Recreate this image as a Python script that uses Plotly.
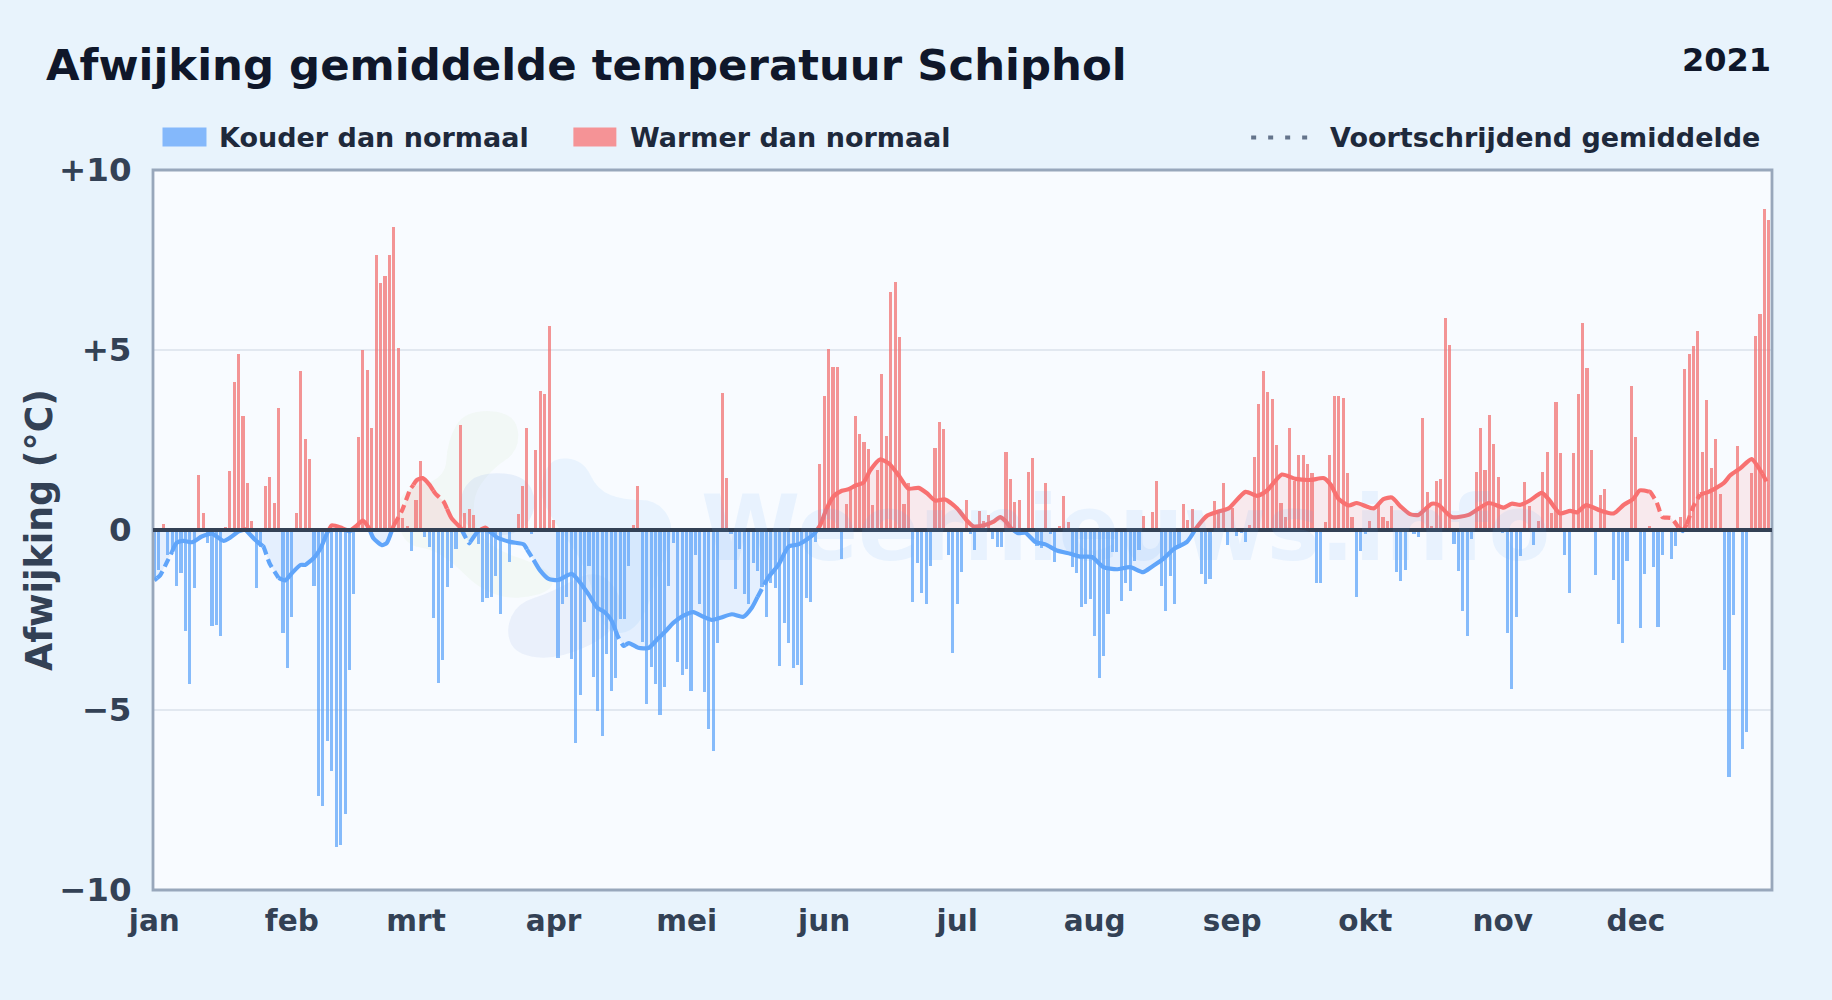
import numpy as np
import plotly.graph_objects as go

# ---------- data ----------
daily_anomaly = [
    -1.4,-1.1,0.17,-0.7,-0.6,-1.56,-1.2,-2.8,-4.28,-1.6,
    1.52,0.46,-0.36,-2.67,-2.65,-2.94,0.09,1.63,4.12,4.9,
    3.18,1.3,0.25,-1.6,-0.46,1.22,1.46,0.75,3.4,-2.85,
    -3.84,-2.41,0.46,4.41,2.54,1.97,-1.56,-7.4,-7.66,-5.87,
    -6.69,-8.8,-8.75,-7.9,-3.88,-1.79,2.58,5.0,4.44,2.82,
    7.64,6.85,7.06,7.64,8.41,5.05,0.32,0.1,-0.57,0.82,
    1.92,-0.2,-0.46,-2.45,-4.24,-3.62,-1.59,-1.06,-0.53,2.93,
    0.46,0.58,0.41,-0.4,-2.0,-1.88,-1.85,-1.28,-2.32,0,
    -0.89,0,0.44,1.23,2.82,-0.1,2.21,3.87,3.77,5.67,
    0.28,-3.55,-2.05,-1.85,-3.58,-5.93,-4.57,-2.56,-1.0,-4.08,
    -5.03,-5.71,-3.44,-4.48,-4.1,-2.48,-2.48,-1.0,0.13,1.22,
    -3.11,-4.83,-3.8,-4.28,-5.15,-4.37,-1.55,-0.37,-3.67,-4.04,
    -3.87,-4.48,-0.7,-2.05,-4.5,-5.52,-6.13,-3.14,3.8,1.44,
    -0.1,-1.63,-0.53,-1.79,-2.05,-0.93,-1.13,-1.59,-2.41,-1.46,
    -1.62,-3.77,-2.58,-3.14,-3.84,-3.75,-4.3,-1.89,-1.99,-0.33,
    1.84,3.71,5.03,4.53,4.53,-0.8,0.73,1.13,3.18,2.68,
    2.45,2.25,0.7,1.66,4.34,2.61,6.62,6.89,5.36,0.73,
    1.3,-1.99,-0.93,-1.76,-2.05,-0.99,2.29,3.0,2.81,-0.69,
    -3.42,-2.05,-1.17,0.82,-0.1,-0.56,0.53,0.26,0.42,-0.26,
    -0.48,-0.48,2.16,1.43,0.78,0.82,0,1.62,1.99,-0.44,
    -0.49,1.3,-0.1,-0.89,0.1,0.94,0.22,-1.03,-1.19,-2.15,
    -2.05,-1.92,-2.94,-4.11,-3.51,-2.33,-0.6,-0.62,-1.97,-1.46,
    -1.7,-0.86,-0.56,0.4,0,0.49,1.36,-1.56,-2.25,-1.28,
    -2.05,-0.5,0.72,0.28,0.58,0,-1.23,-1.5,-1.36,0.8,
    0.46,1.3,-0.41,0.6,-0.17,-0.07,-0.34,0.13,2.03,3.51,
    4.42,3.83,3.63,2.37,0.74,0.36,2.82,1.36,2.09,2.09,
    1.83,1.58,-1.47,-1.46,0.21,2.09,3.71,3.73,3.66,1.58,
    0.36,-1.87,-0.57,-0.1,0.26,0,0.72,0.36,0.25,0.66,
    -1.18,-1.42,-1.1,0,-0.12,-0.2,3.1,1.05,0.1,1.36,
    1.43,5.89,5.14,-0.38,-1.13,-2.25,-2.95,-0.26,1.6,2.83,
    1.66,3.2,2.4,1.46,-0.07,-2.85,-4.41,-2.42,-0.73,1.32,
    0.66,-0.41,0.25,1.62,2.16,0.48,3.56,2.13,-0.69,-1.76,
    2.13,3.79,5.75,4.5,2.21,-1.25,0.98,1.15,0,-1.38,
    -2.62,-3.14,-0.86,3.99,2.57,-2.72,-1.23,0.1,-1.03,-2.69,
    -0.7,0,-0.8,-0.44,0.36,4.48,4.9,5.11,5.54,2.16,
    3.62,1.71,2.54,0.99,-3.88,-6.87,-2.36,2.32,-6.07,-5.6,
    1.58,5.39,6.0,8.91,8.6,
]

rolling_days = [
    0,1.3,3,5,6.5,8.5,10.7,13,15.6,17,19,20.5,22.7,24.6,26,28,29.5,31,33,34,36,37.4,39,40,42,44,
    45.7,47,48.4,49.4,51.3,52.4,54,55.8,57.7,59.2,60.5,62,63.3,65.2,67,69,71,73,74.6,77.2,80.2,
    83.3,85,87,88.9,91,94.1,96,97.9,99.8,101.6,103.1,104.6,105.8,107,109.1,111.4,113.3,115.2,117,
    119.3,121.5,123.8,125.7,127.6,130.2,132.8,134.7,136.6,138.4,140.7,143,145.2,147.5,149,150.1,
    151.6,153.1,155,156.5,158,159.9,161.4,163.6,165.6,167.8,170,172.3,174.2,176,178.3,181,183.2,
    184.7,187,189.2,190.7,191.8,193.3,194.8,196.4,198.6,200.9,203.5,206.5,208.7,211.4,214,217,220,
    222.9,224.9,227.6,229.8,232.8,235,237.4,239.6,242.2,246,248.6,250.8,254.2,257.3,260.7,263.7,
    265.2,267,269.3,271.1,274.9,277.1,279,281,283.1,285,288,289.5,292.5,296.3,300.8,304.2,306,308,
    310.1,312.8,314.3,316.9,319.2,320.7,322.8,326,329,331.3,333.4,334.9,337.2,338.7,340,342,343.6,
    344.6,345.5,347,348.5,350.4,353.8,355.3,357.6,360.1,362.4,364,
]
rolling_values = [
    -1.4,-1.26,-0.85,-0.36,-0.3,-0.34,-0.18,-0.1,-0.3,-0.22,-0.04,0.02,-0.27,-0.46,-0.93,-1.33,-1.4,-1.2,-0.97,-0.97,-0.77,-0.53,-0.07,0.13,0.07,-0.04,
    0.13,0.26,0.05,-0.23,-0.42,-0.36,0.13,0.53,1.13,1.39,1.44,1.26,1.02,0.79,0.33,0.07,-0.37,-0.03,0.07,-0.2,-0.33,
    -0.4,-0.73,-1.13,-1.36,-1.39,-1.22,-1.46,-1.79,-2.15,-2.29,-2.52,-2.98,-3.22,-3.14,-3.27,-3.28,-3.05,-2.82,-2.58,
    -2.38,-2.28,-2.41,-2.5,-2.44,-2.34,-2.41,-2.16,-1.72,-1.32,-0.97,-0.46,-0.4,-0.23,-0.07,0.13,
    0.6,0.93,1.09,1.13,1.23,1.32,1.66,1.96,1.85,1.52,1.15,1.17,1.02,0.82,0.85,0.6,0.26,
    0.1,0.13,0.23,0.36,0.26,0.03,-0.09,-0.08,-0.33,-0.4,-0.57,-0.66,-0.74,-0.75,-1.03,-1.09,-1.03,
    -1.17,-1.02,-0.79,-0.53,-0.33,0.07,0.4,0.5,0.6,1.06,0.95,1.09,1.54,1.42,1.39,1.44,
    1.26,0.86,0.68,0.75,0.6,0.86,0.9,0.65,0.44,0.42,0.73,0.7,0.36,0.42,0.75,0.62,0.73,0.7,
    0.82,1.03,0.86,0.46,0.53,0.49,0.69,0.54,0.46,0.7,0.86,1.1,1.06,0.77,0.36,0.33,0.07,
    -0.03,0.16,0.66,0.99,1.06,1.3,1.52,1.72,1.97,1.59,1.22,
]
dashed_from = [0.6,24.5,54,62.9,69,84,104,136,337,345.5,362.5]
dashed_to   = [4,  28,  58.4,66,71.2,85.5,106.2,137.5,343.6,348.5,364]

month_starts = [0,31,59,90,120,151,181,212,243,273,304,334]
month_labels = ["jan","feb","mrt","apr","mei","jun","jul","aug","sep","okt","nov","dec"]
y_ticks = [-10,-5,0,5,10]
y_labels = ["−10","−5","0","+5","+10"]

TITLE = "Afwijking gemiddelde temperatuur Schiphol"
YEAR = "2021"
COLD_NAME = "Kouder dan normaal"
WARM_NAME = "Warmer dan normaal"
AVG_NAME = "Voortschrijdend gemiddelde"
WATERMARK = "Weernieuws.info"
Y_TITLE = "Afwijking (°C)"

# ---------- styles ----------
W, H = 1832, 1000
L, R, T, B = 152.5, 1772, 169.5, 890.5
FONT = "DejaVu Sans"
BLUE, RED = "#60a5fa", "#f87171"
BAR_BLUE, BAR_RED = "rgba(96,165,250,0.75)", "rgba(241,113,113,0.75)"
FILL_BLUE, FILL_RED = "rgba(96,165,250,0.13)", "rgba(248,113,113,0.13)"

def px(x): return (x - L) / (R - L)
def py(y): return (B - y) / (B - T)

days = np.arange(len(daily_anomaly))
vals = np.array(daily_anomaly, dtype=float)
rd, rv = np.array(rolling_days, float), np.array(rolling_values, float)

# vertices of the running mean, with extra ones where sign or dash state changes
cuts = sorted(set(dashed_from + dashed_to))
xs = sorted(set(rolling_days) | set(cuts))
ys = [float(np.interp(x, rd, rv)) for x in xs]
vx, vy = [xs[0]], [ys[0]]
for x0, y0, x1, y1 in zip(xs[:-1], ys[:-1], xs[1:], ys[1:]):
    if y0 * y1 < 0:
        vx.append(x0 + (x1 - x0) * y0 / (y0 - y1)); vy.append(0.0)
    vx.append(x1); vy.append(y1)
vx, vy = np.array(vx), np.array(vy)

fig = go.Figure()

# fills
fig.add_trace(go.Scatter(x=vx, y=np.clip(vy, None, 0), mode="lines", line=dict(width=0), fill="tozeroy",
                         fillcolor=FILL_BLUE, hoverinfo="skip", showlegend=False))
fig.add_trace(go.Scatter(x=vx, y=np.clip(vy, 0, None), mode="lines", line=dict(width=0), fill="tozeroy",
                         fillcolor=FILL_RED, hoverinfo="skip", showlegend=False))

# bars
cold = vals < 0
warm = vals > 0
fig.add_trace(go.Bar(x=days[cold], y=vals[cold], name=COLD_NAME, marker=dict(color=BAR_BLUE, line_width=0),
                     width=0.7, showlegend=False))
fig.add_trace(go.Bar(x=days[warm], y=vals[warm], name=WARM_NAME, marker=dict(color=BAR_RED, line_width=0),
                     width=0.7, showlegend=False))

# running mean, one trace per run of same colour and dash state
def is_dashed(x):
    return any(a <= x <= b for a, b in zip(dashed_from, dashed_to))

def add_run(a, b, st):
    fig.add_trace(go.Scatter(x=vx[a:b], y=vy[a:b], mode="lines", name=AVG_NAME, showlegend=False,
                             line=dict(color=RED if st[0] else BLUE, width=4.2, shape="spline", smoothing=0.6,
                                       dash="9px,5px" if st[1] else "solid")))

start = 0
state = None
for i in range(len(vx) - 1):
    mid_x, mid_y = (vx[i] + vx[i+1]) / 2, (vy[i] + vy[i+1]) / 2
    s = (mid_y >= 0, is_dashed(mid_x))
    if state is None:
        state = s
    if s != state:
        add_run(start, i + 1, state)
        start, state = i, s
add_run(start, len(vx), state)

# watermark logo blobs
def blob(points, colour):
    pts = [(px(a), py(b)) for a, b in points]
    n = len(pts)
    mid = lambda p, q: ((p[0]+q[0])/2, (p[1]+q[1])/2)
    m0 = mid(pts[-1], pts[0])
    d = f"M {m0[0]:.5f} {m0[1]:.5f}"
    for k in range(n):
        m = mid(pts[k], pts[(k+1) % n])
        d += f" Q {pts[k][0]:.5f} {pts[k][1]:.5f} {m[0]:.5f} {m[1]:.5f}"
    return dict(type="path", path=d + " Z", xref="paper", yref="paper", layer="below",
                fillcolor=colour, line=dict(width=0))

shapes = [
    blob([(447,440),(465,410),(515,412),(520,450),(490,470),(470,500),(480,545),(555,570),(550,595),(490,600),
          (440,550),(400,545),(395,490),(445,480)], "rgba(200,232,170,0.11)"),
    blob([(460,490),(480,472),(525,475),(538,505),(520,535),(480,535),(460,520)], "rgba(170,195,235,0.22)"),
    blob([(550,457),(583,460),(597,490),(623,500),(657,500),(675,527),(660,567),(640,630),(603,636),(587,567),
          (550,517),(538,490)], "rgba(150,200,250,0.15)"),
    blob([(505,630),(517,603),(550,593),(597,567),(625,600),(612,635),(557,660),(515,655)], "rgba(170,195,235,0.18)"),
    # frame and zero line
    dict(type="rect", xref="paper", yref="paper", x0=0, x1=1, y0=0, y1=1, layer="above",
         line=dict(color="#98a7bb", width=2.8), fillcolor="rgba(0,0,0,0)"),
    dict(type="line", xref="paper", yref="y", x0=0, x1=1, y0=0, y1=0, layer="above",
         line=dict(color="#334155", width=3.8)),
    # legend swatches
    dict(type="rect", xref="paper", yref="paper", x0=px(162), x1=px(206), y0=py(146), y1=py(127),
         fillcolor="#84b8fb", line_width=0),
    dict(type="rect", xref="paper", yref="paper", x0=px(573), x1=px(616), y0=py(146), y1=py(127),
         fillcolor="#f59396", line_width=0),
    dict(type="line", xref="paper", yref="paper", x0=px(1251), x1=px(1309), y0=py(137), y1=py(137),
         line=dict(color="#64748b", width=4, dash="5px,12px")),
]

def note(text, x, y, size, colour, anchor="left", weight=700, **kw):
    return dict(text=text, x=px(x), y=py(y), xref="paper", yref="paper", xanchor=anchor, yanchor="middle",
                showarrow=False, font=dict(family=FONT, size=size, color=colour, weight=weight), **kw)

annotations = [
    note(WATERMARK, 1125, 528, 90, "rgba(96,165,250,0.1)", anchor="center"),
    note(YEAR, 1773, 59, 32, "#0f172a", anchor="right"),
    note(COLD_NAME, 217, 137, 27, "#1e293b"),
    note(WARM_NAME, 628, 137, 27, "#1e293b"),
    note(AVG_NAME, 1328, 137, 27, "#1e293b"),
    note(Y_TITLE, 38.5, 530, 36.4, "#334155", anchor="center", textangle=-90),
]

fig.update_layout(
    width=W, height=H, autosize=False,
    margin=dict(l=L, r=W-R, t=T, b=H-B, pad=0),
    paper_bgcolor="#e8f3fc", plot_bgcolor="#f8fbff",
    barmode="overlay", bargap=0,
    title=dict(text=TITLE, x=46/W, xref="container", xanchor="left",
               y=1-65/H, yanchor="middle", font=dict(family=FONT, size=43.4, color="#0f172a", weight=700)),
    shapes=shapes, annotations=annotations,
    xaxis=dict(range=[-0.3, 364.7], tickmode="array", tickvals=month_starts, ticktext=month_labels,
               showgrid=False, zeroline=False, showline=False, tickangle=0,
               ticks="outside", ticklen=5, tickcolor="rgba(0,0,0,0)",
               tickfont=dict(family=FONT, size=29.5, color="#334155", weight=700)),
    yaxis=dict(range=[-10, 10], tickmode="array", tickvals=y_ticks, ticktext=y_labels,
               showgrid=True, gridcolor="#e2e8f0", gridwidth=1.5, zeroline=False, showline=False,
               ticks="outside", ticklen=14, tickcolor="rgba(0,0,0,0)",
               tickfont=dict(family=FONT, size=32.5, color="#334155", weight=700)),
    hovermode=False,
)

fig.write_html("out.html", config={"displayModeBar": False},
               post_script="document.body.style.margin='0';document.body.style.background='#e8f3fc';")
